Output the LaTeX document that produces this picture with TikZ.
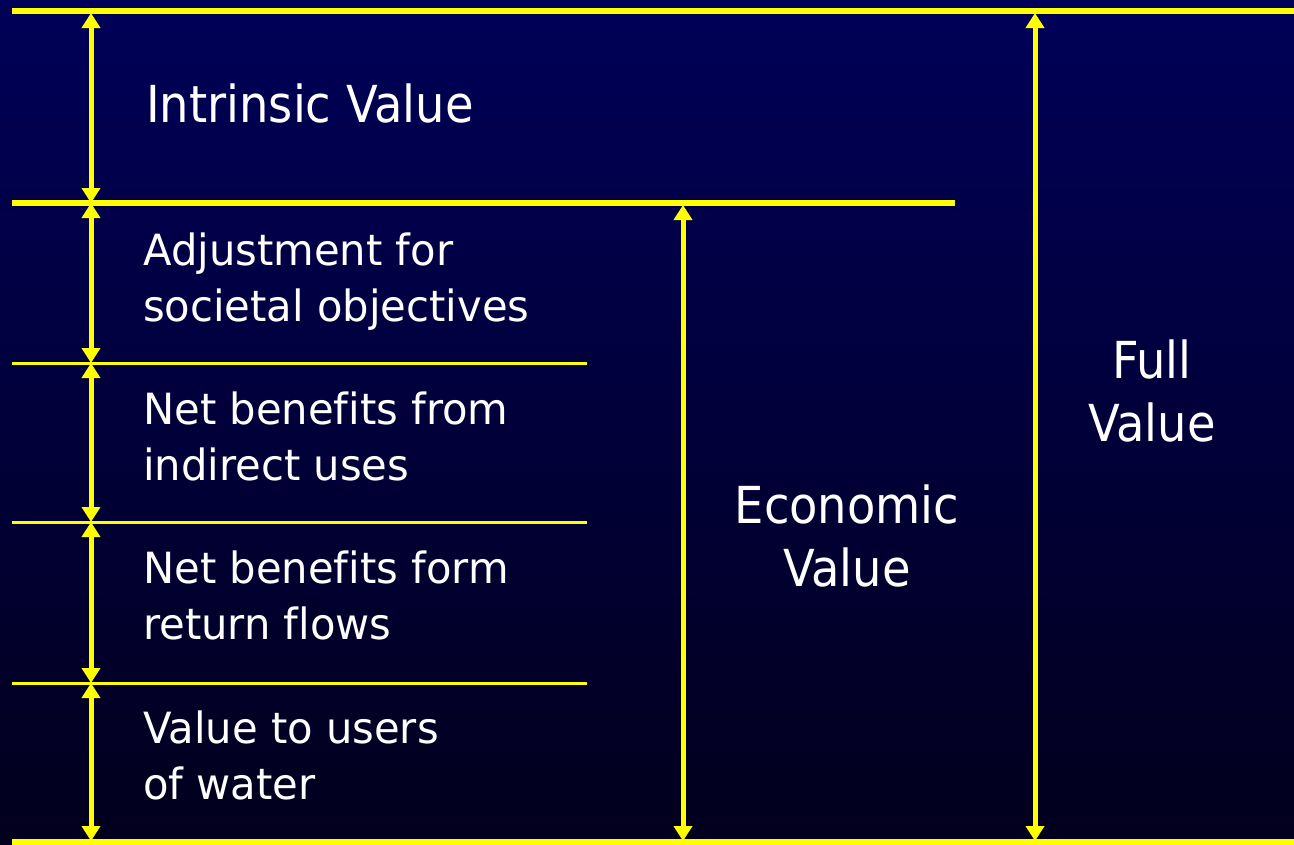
\documentclass[tikz,border=0pt]{standalone}
\usepackage{fontspec}
\setmainfont{DejaVu Sans}[FakeStretch=0.91, Ligatures=NoCommon]
\newfontfamily\rowface{DejaVu Sans}[FakeStretch=0.97, Ligatures=NoCommon]
\usetikzlibrary{arrows.meta}

\definecolor{bgtop}{RGB}{0,0,88}
\definecolor{bgbot}{RGB}{2,0,28}
\definecolor{rulecol}{RGB}{255,255,0}

\begin{document}
\begin{tikzpicture}[x=1pt,y=-1pt,
  thickrule/.style={draw=rulecol, line width=6pt},
  thinrule/.style={draw=rulecol, line width=3pt},
  span/.style={draw=rulecol, line width=5pt,
    {Triangle[length=15pt,width=18pt]}-{Triangle[length=15pt,width=18pt]}},
  bigtext/.style={text=white, inner sep=0pt, font={\fontsize{51}{63}\selectfont}},
  smalltext/.style={text=white, inner sep=0pt, anchor=base west,
    font={\rowface\fontsize{43}{56}\selectfont}}]

  % background
  \fill[top color=bgtop, bottom color=bgbot] (0,0) rectangle (1294,844);
  \useasboundingbox (0,0) rectangle (1294,844);

  % horizontal rules
  \draw[thickrule] (12,11) -- (1294,11);
  \draw[thickrule] (12,203) -- (955,203);
  \draw[thinrule] (12,363) -- (587,363);
  \draw[thinrule] (12,522) -- (587,522);
  \draw[thinrule] (12,683) -- (587,683);
  \draw[thickrule] (12,842) -- (1294,842);

  % end points of the dimension arrows
  \coordinate (a0) at (91,13);
  \coordinate (a1) at (91,203);
  \coordinate (a2) at (91,363);
  \coordinate (a3) at (91,522);
  \coordinate (a4) at (91,683);
  \coordinate (a5) at (91,841);
  \coordinate (e0) at (683,205);
  \coordinate (e1) at (683,841);
  \coordinate (f0) at (1035,13);
  \coordinate (f1) at (1035,841);

  \draw[span] (a0) -- (a1);
  \draw[span] (a1) -- (a2);
  \draw[span] (a2) -- (a3);
  \draw[span] (a3) -- (a4);
  \draw[span] (a4) -- (a5);
  \draw[span] (e0) -- (e1);
  \draw[span] (f0) -- (f1);

  % labels
  \node[bigtext, anchor=base west] (intrinsic) at (146,122) {Intrinsic Value};
  \node[smalltext] (adjust) at (143,265)
    {\begin{tabular}[t]{@{}l@{}}Adjustment for\\societal objectives\end{tabular}};
  \node[smalltext] (indirect) at (143,424)
    {\begin{tabular}[t]{@{}l@{}}Net benefits from\\indirect uses\end{tabular}};
  \node[smalltext] (returns) at (143,583)
    {\begin{tabular}[t]{@{}l@{}}Net benefits form\\return flows\end{tabular}};
  \node[smalltext] (users) at (143,743)
    {\begin{tabular}[t]{@{}l@{}}Value to users\\of water\end{tabular}};
  \node[bigtext, anchor=base] (economic) at (847,523)
    {\begin{tabular}[t]{@{}c@{}}Economic\\Value\end{tabular}};
  \node[bigtext, anchor=base] (full) at (1152,378)
    {\begin{tabular}[t]{@{}c@{}}Full\\Value\end{tabular}};
\end{tikzpicture}
\end{document}
